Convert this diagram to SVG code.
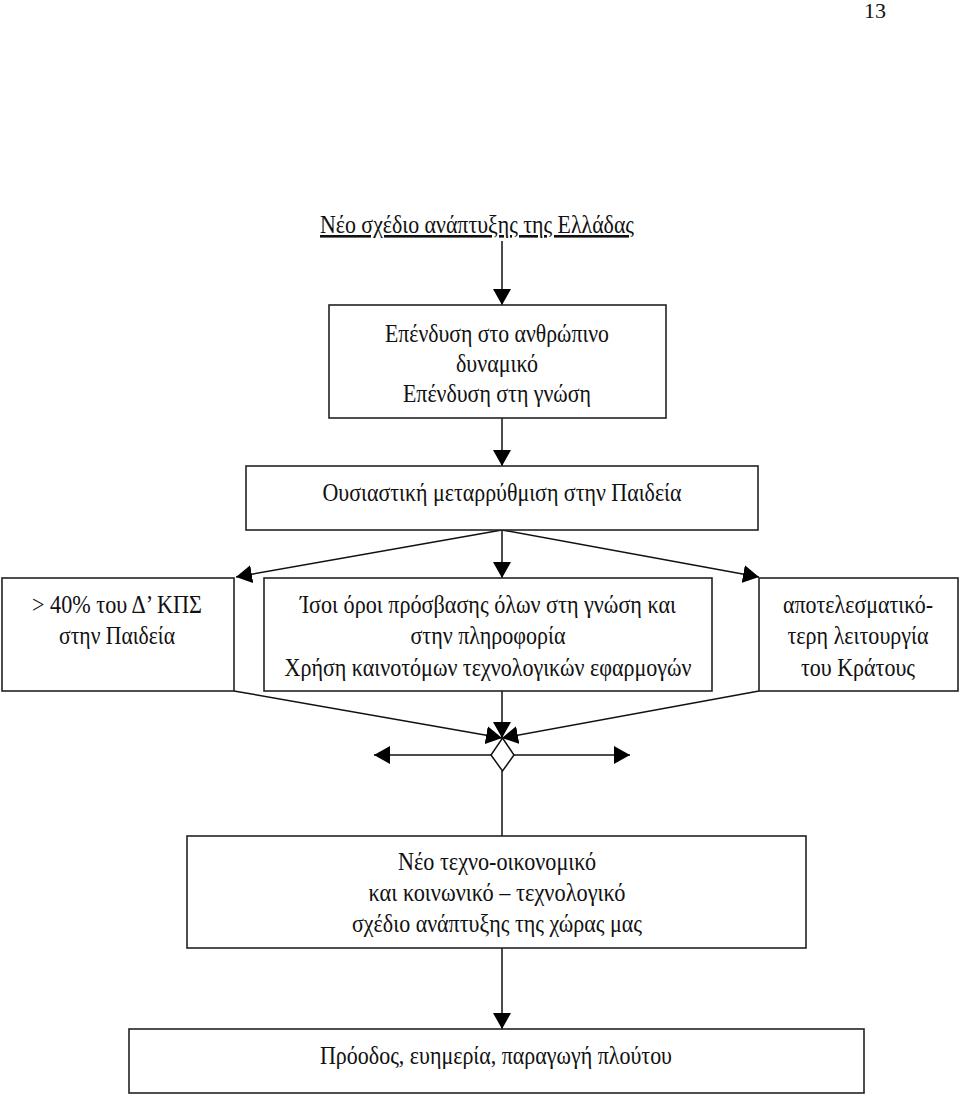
<svg xmlns="http://www.w3.org/2000/svg" width="960" height="1096" viewBox="0 0 960 1096">
<style>
.box{fill:#fff;stroke:#222;stroke-width:1.6}
.t{font-family:"Liberation Serif","Times New Roman",serif;font-size:26px;fill:#111;text-anchor:middle}
.ln{stroke:#111;stroke-width:1.5;fill:none}
</style>
<defs>
<marker id="ah" viewBox="0 0 16 18" refX="16" refY="9" markerWidth="16" markerHeight="18" markerUnits="userSpaceOnUse" orient="auto">
<path d="M0,0 L16,9 L0,18 Z" fill="#000"/>
</marker>
</defs>
<rect width="960" height="1096" fill="#fff"/>
<text x="875" y="18" class="t" style="font-size:22px">13</text>

<g id="title">
<text x="477" y="233" class="t" textLength="314" lengthAdjust="spacingAndGlyphs" text-decoration="underline">Νέο σχέδιο ανάπτυξης της Ελλάδας</text>
</g>

<g id="connectors">
<line class="ln" x1="502" y1="241" x2="502" y2="305" marker-end="url(#ah)"/>
<line class="ln" x1="502" y1="418" x2="502" y2="466" marker-end="url(#ah)"/>
<line class="ln" x1="502" y1="530" x2="502" y2="578" marker-end="url(#ah)"/>
<line class="ln" x1="502" y1="530" x2="236" y2="577" marker-end="url(#ah)"/>
<line class="ln" x1="502" y1="530" x2="759" y2="577" marker-end="url(#ah)"/>
<line class="ln" x1="502" y1="691" x2="502" y2="738" marker-end="url(#ah)"/>
<line class="ln" x1="234" y1="691" x2="502" y2="738" marker-end="url(#ah)"/>
<line class="ln" x1="759" y1="691" x2="502" y2="738" marker-end="url(#ah)"/>
<line class="ln" x1="491" y1="755" x2="374" y2="755" marker-end="url(#ah)"/>
<line class="ln" x1="514" y1="755" x2="630" y2="755" marker-end="url(#ah)"/>
<line class="ln" x1="502" y1="771" x2="502" y2="836"/>
<line class="ln" x1="502" y1="948" x2="502" y2="1029" marker-end="url(#ah)"/>
<path id="junction" d="M502.5,738 L514,755 L502.5,771 L491,755 Z" fill="#fff" stroke="#111" stroke-width="1.5"/>
</g>

<g id="n1">
<rect class="box" x="329" y="305" width="337" height="113"/>
<text x="497" y="342" class="t" textLength="224" lengthAdjust="spacingAndGlyphs">Επένδυση στο ανθρώπινο</text>
<text x="497" y="372" class="t" textLength="82" lengthAdjust="spacingAndGlyphs">δυναμικό</text>
<text x="497" y="402" class="t" textLength="188" lengthAdjust="spacingAndGlyphs">Επένδυση στη γνώση</text>
</g>

<g id="n2">
<rect class="box" x="246" y="466" width="512" height="64"/>
<text x="502" y="501" class="t" textLength="359" lengthAdjust="spacingAndGlyphs">Ουσιαστική μεταρρύθμιση στην Παιδεία</text>
</g>

<g id="n3">
<rect class="box" x="2" y="578" width="232" height="113"/>
<text x="117" y="613" class="t" textLength="170" lengthAdjust="spacingAndGlyphs">&gt; 40% του Δ’ ΚΠΣ</text>
<text x="117" y="644" class="t" textLength="116" lengthAdjust="spacingAndGlyphs">στην Παιδεία</text>
</g>

<g id="n4">
<rect class="box" x="264" y="578" width="448" height="113"/>
<text x="488" y="613" class="t" textLength="376" lengthAdjust="spacingAndGlyphs">Ίσοι όροι πρόσβασης όλων στη γνώση και</text>
<text x="488" y="644" class="t" textLength="155" lengthAdjust="spacingAndGlyphs">στην πληροφορία</text>
<text x="488" y="676" class="t" textLength="407" lengthAdjust="spacingAndGlyphs">Χρήση καινοτόμων τεχνολογικών εφαρμογών</text>
</g>

<g id="n5">
<rect class="box" x="759" y="578" width="199" height="113"/>
<text x="858" y="613" class="t" textLength="150" lengthAdjust="spacingAndGlyphs">αποτελεσματικό-</text>
<text x="858" y="644" class="t" textLength="141" lengthAdjust="spacingAndGlyphs">τερη λειτουργία</text>
<text x="858" y="676" class="t" textLength="114" lengthAdjust="spacingAndGlyphs">του Κράτους</text>
</g>

<g id="n6">
<rect class="box" x="187" y="836" width="619" height="112"/>
<text x="497" y="870" class="t" textLength="198" lengthAdjust="spacingAndGlyphs">Νέο τεχνο-οικονομικό</text>
<text x="497" y="901" class="t" textLength="257" lengthAdjust="spacingAndGlyphs">και κοινωνικό – τεχνολογικό</text>
<text x="497" y="932" class="t" textLength="290" lengthAdjust="spacingAndGlyphs">σχέδιο ανάπτυξης της χώρας μας</text>
</g>

<g id="n7">
<rect class="box" x="129" y="1029" width="735" height="64"/>
<text x="496" y="1064" class="t" textLength="352" lengthAdjust="spacingAndGlyphs">Πρόοδος, ευημερία, παραγωγή πλούτου</text>
</g>
</svg>
